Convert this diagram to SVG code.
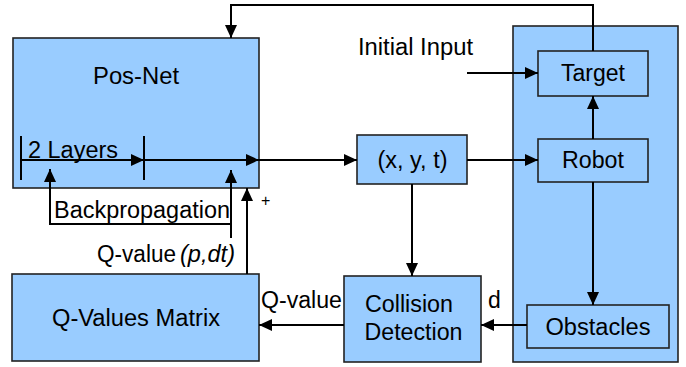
<svg xmlns="http://www.w3.org/2000/svg" width="686" height="367" viewBox="0 0 686 367">
<defs>
<style>
.box{fill:#99ccff;stroke:#222;stroke-width:1.6}
.ln{fill:none;stroke:#000;stroke-width:2}
.arr{marker-end:url(#ah)}
text{font-family:"Liberation Sans",Arial,sans-serif;font-size:23px;fill:#000}
.m{text-anchor:middle}
</style>
<marker id="ah" markerUnits="userSpaceOnUse" markerWidth="14" markerHeight="12" refX="13" refY="6" orient="auto">
<path d="M0,0 L13,6 L0,12 Z" fill="#000"/>
</marker>
</defs>
<rect width="686" height="367" fill="#fff"/>
<g id="environment"><rect class="box" x="513" y="26" width="165" height="336"/></g>
<g id="posnet">
<rect class="box" x="13" y="38" width="246" height="150"/>
<text class="m" x="136" y="84" textLength="86" lengthAdjust="spacingAndGlyphs">Pos-Net</text>
<text x="28" y="158" textLength="90" lengthAdjust="spacingAndGlyphs">2 Layers</text>
</g>
<g id="target"><rect class="box" x="538" y="51" width="110" height="45"/>
<text class="m" x="593" y="81" textLength="64" lengthAdjust="spacingAndGlyphs">Target</text></g>
<g id="robot"><rect class="box" x="538" y="139" width="110" height="43"/>
<text class="m" x="593" y="168" textLength="62" lengthAdjust="spacingAndGlyphs">Robot</text></g>
<g id="xyt"><rect class="box" x="357" y="135" width="110" height="49"/>
<text class="m" x="412.5" y="168" textLength="70" lengthAdjust="spacingAndGlyphs">(x, y, t)</text></g>
<g id="obstacles"><rect class="box" x="527" y="305" width="142" height="43"/>
<text class="m" x="598" y="335" textLength="105" lengthAdjust="spacingAndGlyphs">Obstacles</text></g>
<g id="collision"><rect class="box" x="344" y="276" width="137" height="86"/>
<text class="m" x="409" y="312" textLength="88" lengthAdjust="spacingAndGlyphs">Collision</text>
<text class="m" x="413.5" y="340" textLength="98" lengthAdjust="spacingAndGlyphs">Detection</text></g>
<g id="qmatrix"><rect class="box" x="12" y="274" width="247" height="87"/>
<text class="m" x="136" y="326" textLength="168" lengthAdjust="spacingAndGlyphs">Q-Values Matrix</text></g>
<g id="connectors">
<path class="ln arr" d="M593,51 V5 H231 V38"/>
<path class="ln arr" d="M467,73 H538"/>
<path class="ln" d="M21,136 V180 M144,136 V180"/>
<path class="ln arr" d="M21,160 H144"/>
<path class="ln arr" d="M144,160 H259"/>
<path class="ln arr" d="M259,160 H357"/>
<path class="ln arr" d="M467,160 H538"/>
<path class="ln arr" d="M593,139 V96"/>
<path class="ln arr" d="M593,182 V305"/>
<path class="ln arr" d="M412,184 V276"/>
<path class="ln arr" d="M527,325 H481"/>
<path class="ln arr" d="M344,325 H259"/>
<path class="ln arr" d="M247,274 V188"/>
<path class="ln arr" d="M231,238 V170"/>
<path class="ln arr" d="M231,224 H50 V169"/>
</g>
<g id="labels">
<text x="358" y="55" textLength="115" lengthAdjust="spacingAndGlyphs">Initial Input</text>
<text x="54" y="218" textLength="176" lengthAdjust="spacingAndGlyphs">Backpropagation</text>
<text x="97" y="262"><tspan textLength="79" lengthAdjust="spacingAndGlyphs">Q-value</tspan><tspan x="180" font-style="italic" textLength="55" lengthAdjust="spacingAndGlyphs">(p,dt)</tspan></text>
<text x="261" y="206" style="font-size:16px">+</text>
<text x="261" y="308" textLength="81" lengthAdjust="spacingAndGlyphs">Q-value</text>
<text x="488" y="308">d</text>
</g>
</svg>
